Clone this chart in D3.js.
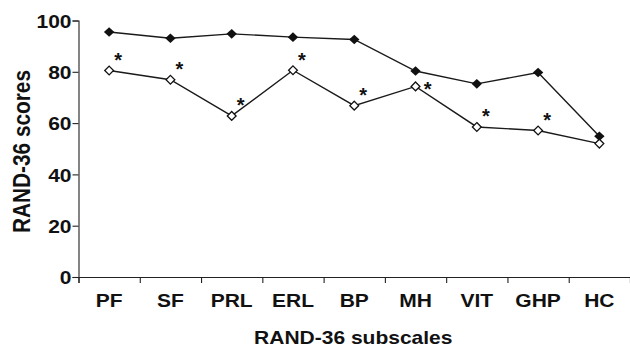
<!DOCTYPE html>
<html>
<head>
<meta charset="utf-8">
<script src="https://cdn.jsdelivr.net/npm/d3@7"></script>
<style>
  html, body { margin: 0; padding: 0; background: #fff; }
  svg { display: block; }
  text { font-family: "Liberation Sans", Arial, sans-serif; font-weight: bold; fill: #111; }
</style>
</head>
<body>
<svg id="chart" width="630" height="347"></svg>
<script>
// data
var subscales = ["PF", "SF", "PRL", "ERL", "BP", "MH", "VIT", "GHP", "HC"];
var reference = [95.5, 93.1, 94.8, 93.5, 92.6, 80.3, 75.3, 79.7, 54.9];   // filled diamonds
var patients  = [80.5, 76.9, 62.8, 80.6, 66.8, 74.3, 58.5, 57.1, 52.0];   // open diamonds
var significant = [true, true, true, true, true, true, true, true, false];
var yTicks = [0, 20, 40, 60, 80, 100];
var xTitle = "RAND-36 subscales";
var yTitle = "RAND-36 scores";

var margin = {top: 20.5, right: 0, bottom: 70, left: 78.5};
var width = 630 - margin.left - margin.right;
var height = 347 - margin.top - margin.bottom;
var stretch = 1.13; // source figure is a bit wider than tall

var svg = d3.select("#chart");
var g = svg.append("g")
    .attr("transform", "translate(" + margin.left + "," + margin.top + ")");

// scales
var xScale = d3.scaleBand().domain(subscales).range([0, width]);
var xEdges = d3.scaleLinear().domain([0, subscales.length]).range([0, width]);
var yScale = d3.scaleLinear().domain([0, 100]).range([height, 0]);

// y axis
var yAxis = g.append("g")
    .attr("class", "axis axis--y")
    .call(d3.axisLeft(yScale).tickValues(yTicks).tickSize(6).tickPadding(2));
yAxis.select(".domain").attr("stroke", "#222").attr("stroke-width", 1.1);
yAxis.selectAll(".tick line").attr("stroke", "#222").attr("stroke-width", 1.1);
yAxis.selectAll(".tick text")
    .attr("x", null).attr("dy", null).attr("y", null)
    .attr("transform", "translate(-7,6.7) scale(" + stretch + ",1)")
    .style("font-size", "18.6px")
    .attr("fill", "#111");

// x axis: boundary ticks
var xAxisTicks = g.append("g")
    .attr("class", "axis axis--x")
    .attr("transform", "translate(0," + height + ")")
    .call(d3.axisBottom(xEdges).ticks(subscales.length).tickSize(6).tickFormat(""));
xAxisTicks.select(".domain").attr("stroke", "#222").attr("stroke-width", 1.1);
xAxisTicks.selectAll(".tick line").attr("stroke", "#222").attr("stroke-width", 1.1);

// x axis: category labels
var xAxisLabels = g.append("g")
    .attr("class", "axis axis--labels")
    .attr("transform", "translate(0," + height + ")")
    .call(d3.axisBottom(xScale).tickSize(0));
xAxisLabels.select(".domain").remove();
xAxisLabels.selectAll(".tick text")
    .attr("y", null).attr("dy", null)
    .attr("transform", "translate(0,30) scale(" + stretch + ",1)")
    .style("font-size", "18.6px")
    .attr("fill", "#111");

// axis titles
svg.append("text")
    .attr("transform", "translate(" + (margin.left + width / 2 - 1) + ",344) scale(" + stretch + ",1)")
    .attr("text-anchor", "middle")
    .style("font-size", "18.6px")
    .text(xTitle);

svg.append("text")
    .attr("transform", "translate(30,151.5) scale(" + stretch + ",1) rotate(-90)")
    .attr("text-anchor", "middle")
    .style("font-size", "20.8px")
    .text(yTitle);

// lines
var line = d3.line()
    .x(function(d, i) { return xScale(subscales[i]) + xScale.bandwidth() / 2; })
    .y(function(d) { return yScale(d); });

g.append("path").datum(reference)
    .attr("d", line).attr("fill", "none")
    .attr("stroke", "#1a1a1a").attr("stroke-width", 1.4);
g.append("path").datum(patients)
    .attr("d", line).attr("fill", "none")
    .attr("stroke", "#1a1a1a").attr("stroke-width", 1.4);

// diamond marker
function diamond(w, h) {
    return "M0," + (-h) + "L" + w + ",0L0," + h + "L" + (-w) + ",0Z";
}

g.selectAll(".dot-ref")
    .data(reference)
    .enter().append("path")
    .attr("class", "dot-ref")
    .attr("transform", function(d, i) {
        return "translate(" + (xScale(subscales[i]) + xScale.bandwidth() / 2) + "," + yScale(d) + ")";
    })
    .attr("d", diamond(5.2, 4.8))
    .attr("fill", "#111");

g.selectAll(".dot-pat")
    .data(patients)
    .enter().append("path")
    .attr("class", "dot-pat")
    .attr("transform", function(d, i) {
        return "translate(" + (xScale(subscales[i]) + xScale.bandwidth() / 2) + "," + yScale(d) + ")";
    })
    .attr("d", diamond(4.4, 4.4))
    .attr("fill", "#fff")
    .attr("stroke", "#111")
    .attr("stroke-width", 1.3);

// significance stars; placed to the right when the filled point sits right above
g.selectAll(".star")
    .data(patients.map(function(v, i) { return {v: v, i: i}; }).filter(function(d) { return significant[d.i]; }))
    .enter().append("text")
    .attr("class", "star")
    .attr("text-anchor", "middle")
    .style("font-size", "20px")
    .attr("x", function(d) {
        var crowded = reference[d.i] - d.v < 10;
        return xScale(subscales[d.i]) + xScale.bandwidth() / 2 + (crowded ? 12 : 9);
    })
    .attr("y", function(d) {
        var crowded = reference[d.i] - d.v < 10;
        return yScale(d.v) + (crowded ? 10 : -3.5);
    })
    .text("*");
</script>
</body>
</html>
